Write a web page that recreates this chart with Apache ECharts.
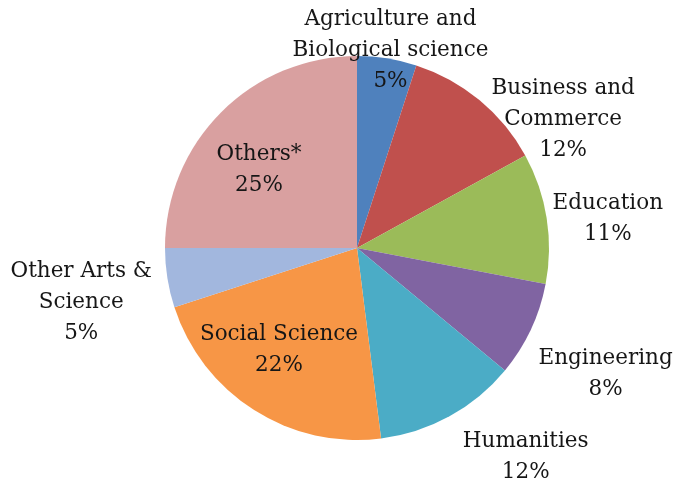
<!DOCTYPE html>
<html>
<head>
<meta charset="utf-8">
<script src="https://cdn.jsdelivr.net/npm/echarts@6/dist/echarts.min.js"></script>
<style>
  html, body { margin: 0; padding: 0; background: #fff; }
  #chart { width: 676px; height: 487px; }
</style>
</head>
<body>
<div id="chart"></div>
<script>
// Field-of-study shares (percent), clockwise from 12 o'clock
const categories = [
  'Agriculture and\nBiological science',
  'Business and\nCommerce',
  'Education',
  'Engineering',
  'Humanities',
  'Social Science',
  'Other Arts &\nScience',
  'Others*'
];
const shares = [5, 12, 11, 8, 12, 22, 5, 25];
const colors = ['#4F81BD', '#C0504D', '#9BBB59', '#8064A2', '#4BACC6', '#F79646', '#A2B7DE', '#D9A0A0'];

// Label nudges away from each slice's inner anchor point
const labelOffsets = [
  [18, -100], [143, -52], [153, -14], [159, 84],
  [121, 122], [-25, 18], [-178, 39], [-28, -8]
];

const chart = echarts.init(document.getElementById('chart'), null, { renderer: 'canvas' });

chart.setOption({
  animation: false,
  backgroundColor: '#ffffff',
  series: [{
    type: 'pie',
    center: [357, 248],
    radius: [0, 192],
    startAngle: 90,
    clockwise: true,
    avoidLabelOverlap: false,
    itemStyle: { borderWidth: 0 },
    label: {
      show: true,
      position: 'inside',
      formatter: '{b}\n{c}%',
      fontFamily: 'DejaVu Serif',
      fontSize: 21.5,
      lineHeight: 31,
      color: '#161616',
      align: 'center'
    },
    labelLine: { show: false },
    emphasis: { disabled: true },
    data: categories.map((name, i) => ({
      name: name,
      value: shares[i],
      itemStyle: { color: colors[i] },
      label: { offset: labelOffsets[i] }
    }))
  }]
});
</script>
</body>
</html>
